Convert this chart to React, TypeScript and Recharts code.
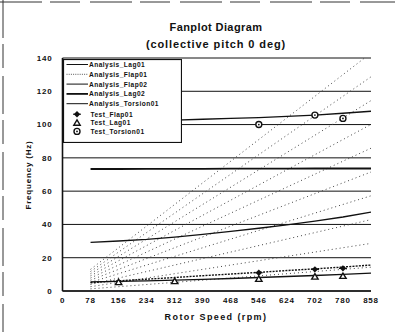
import React from 'react';
import {
  ComposedChart,
  Line,
  Scatter,
  XAxis,
  YAxis,
  CartesianGrid,
  Legend,
  Customized,
} from 'recharts';

// ---- axis ticks ----
const rpmTicks = [0, 78, 156, 234, 312, 390, 468, 546, 624, 702, 780, 858];
const freqTicks = [0, 20, 40, 60, 80, 100, 120, 140];

// ---- analysis curves (rpm vs Hz) ----
const analysisRpm = [78, 156, 234, 312, 390, 468, 546, 624, 702, 780, 858];
const lag01Hz = [5.5, 5.8, 6.1, 6.5, 7.0, 7.5, 8.1, 8.7, 9.3, 10.0, 10.8];
const flap01Hz = [5.0, 6.1, 7.1, 8.1, 9.2, 10.2, 11.2, 12.3, 13.3, 14.4, 15.6];
const flap02Hz = [29.2, 30.0, 31.0, 32.4, 34.0, 35.8, 37.7, 39.7, 42.0, 44.5, 47.4];
const lag02Hz = [73.3, 73.3, 73.4, 73.4, 73.4, 73.5, 73.5, 73.5, 73.6, 73.6, 73.6];
const torsion01Hz = [101.5, 101.8, 102.2, 102.7, 103.2, 103.7, 104.2, 104.9, 105.7, 106.8, 108.0];

// ---- test points ----
const testFlapRpm = [546, 702, 780];
const testFlap01Hz = [11.0, 13.0, 13.6];
const testLagRpm = [156, 312, 546, 702, 780];
const testLag01Hz = [5.3, 5.9, 7.2, 8.6, 9.0];
const testTorsionRpm = [546, 702, 780];
const testTorsion01Hz = [100.0, 105.7, 103.7];

// ---- per-rev fan lines (start / end values) ----
const fanRpm = [78, 858];
const fanStartHz = [1.3, 2.6, 3.9, 5.2, 6.5, 7.8, 9.1, 10.4, 11.7, 13.0];
const fanEndHz = [14.3, 28.6, 42.9, 57.2, 71.5, 85.8, 100.1, 114.4, 128.7, 143.0];

// ---- legend labels ----
const legendNames = [
  'Analysis_Lag01',
  'Analysis_Flap01',
  'Analysis_Flap02',
  'Analysis_Lag02',
  'Analysis_Torsion01',
  'Test_Flap01',
  'Test_Lag01',
  'Test_Torsion01',
];

const toSeries = (xs: number[], ys: number[]) => xs.map((x, i) => ({ rpm: x, hz: ys[i] }));

const fanSeries = fanStartHz.map((s, i) => [
  { rpm: fanRpm[0], hz: s },
  { rpm: fanRpm[1], hz: fanEndHz[i] },
]);

const INK = '#111';
const FONT = '"Liberation Sans", Arial, Helvetica, sans-serif';

const Diamond = (p: any) => {
  const { cx, cy } = p;
  if (cx == null || cy == null) return null;
  const r = 3.2;
  return (
    <g>
      <polygon points={`${cx},${cy - r} ${cx + r},${cy} ${cx},${cy + r} ${cx - r},${cy}`} fill={INK} />
      <line x1={cx - 4} x2={cx + 4} y1={cy} y2={cy} stroke={INK} strokeWidth={1.1} />
    </g>
  );
};

const Tri = (p: any) => {
  const { cx, cy } = p;
  if (cx == null || cy == null) return null;
  return (
    <polygon
      points={`${cx},${cy - 3} ${cx + 3.2},${cy + 2.4} ${cx - 3.2},${cy + 2.4}`}
      fill="#fff"
      stroke={INK}
      strokeWidth={1.4}
    />
  );
};

const Ring = (p: any) => {
  const { cx, cy } = p;
  if (cx == null || cy == null) return null;
  return (
    <g>
      <circle cx={cx} cy={cy} r={3} fill="#fff" stroke={INK} strokeWidth={1.4} />
      <circle cx={cx} cy={cy} r={0.9} fill={INK} />
    </g>
  );
};

const LegendBox = () => {
  const rowY = [5.5, 15.3, 25.1, 34.9, 44.7, 55.2, 63.8, 72.4];
  const lineStyles: any[] = [
    { w: 1, dash: undefined },
    { w: 1, dash: '1 1.2', c: '#555' },
    { w: 1, dash: undefined },
    { w: 1.8, dash: undefined },
    { w: 1, dash: undefined },
  ];
  return (
    <svg width={119} height={84} style={{ display: 'block' }}>
      <rect x={0.5} y={0.5} width={118} height={83} fill="#fff" stroke={INK} strokeWidth={1.2} />
      {legendNames.map((name, i) => {
        const y = rowY[i];
        const isLine = i < 5;
        return (
          <g key={name}>
            {isLine ? (
              <line
                x1={3.5}
                x2={25}
                y1={y}
                y2={y}
                stroke={lineStyles[i].c || INK}
                strokeWidth={lineStyles[i].w}
                strokeDasharray={lineStyles[i].dash}
              />
            ) : i === 5 ? (
              <Diamond cx={14} cy={y} />
            ) : i === 6 ? (
              <Tri cx={14} cy={y} />
            ) : (
              <Ring cx={14} cy={y} />
            )}
            <text
              x={isLine ? 26 : 27.5}
              y={y + 2.4}
              fontSize={6.6}
              fontWeight="bold"
              letterSpacing={0.45}
              fill={INK}
              fontFamily={FONT}
            >
              {name}
            </text>
          </g>
        );
      })}
    </svg>
  );
};

const Decorations = () => (
  <g fontFamily={FONT} fill={INK}>
    <line x1={0} x2={395} y1={2} y2={2} stroke="#333" strokeWidth={1} strokeDasharray="42 8 30 10" />
    <line x1={3} x2={3} y1={0} y2={332} stroke="#333" strokeWidth={1} strokeDasharray="38 6 24 8" />
    <text x={216} y={31} textAnchor="middle" fontSize={11} fontWeight="bold" letterSpacing={0.4}>
      Fanplot Diagram
    </text>
    <text x={216} y={47.5} textAnchor="middle" fontSize={11} fontWeight="bold" letterSpacing={0.9}>
      (collective pitch 0 deg)
    </text>
    <text x={216} y={320} textAnchor="middle" fontSize={9} fontWeight="bold" letterSpacing={1.4}>
      Rotor Speed (rpm)
    </text>
    <text
      x={31}
      y={175}
      textAnchor="middle"
      fontSize={8}
      fontWeight="bold"
      letterSpacing={0.8}
      transform="rotate(-90 31 175)"
    >
      Frequency (Hz)
    </text>
  </g>
);

const tickStyle = { fontSize: 8, fontWeight: 'bold', fill: INK, fontFamily: FONT, letterSpacing: 0.8 } as any;

export default function App() {
  return (
    <div style={{ position: 'fixed', left: 0, top: 0, width: 395, height: 332, background: '#fff' }}>
      <ComposedChart width={395} height={332} margin={{ top: 58, right: 24, bottom: 11, left: 0 }}>
        <CartesianGrid vertical={false} horizontal stroke={INK} strokeWidth={1} />
        <XAxis
          type="number"
          dataKey="rpm"
          domain={[0, 858]}
          ticks={rpmTicks}
          interval={0}
          height={30}
          tickLine={false}
          tickSize={0}
          tickMargin={6}
          axisLine={{ stroke: INK, strokeWidth: 1.6 }}
          tick={tickStyle}
          allowDataOverflow
        />
        <XAxis
          xAxisId="top"
          orientation="top"
          type="number"
          domain={[0, 858]}
          height={0}
          tick={false}
          tickLine={false}
          axisLine={{ stroke: INK, strokeWidth: 1.8 }}
        />
        <YAxis
          type="number"
          dataKey="hz"
          domain={[0, 140]}
          ticks={freqTicks}
          interval={0}
          width={62.5}
          tickLine={false}
          tickSize={0}
          tickMargin={10}
          axisLine={{ stroke: INK, strokeWidth: 1.6 }}
          tick={tickStyle}
          allowDataOverflow
        />
        <YAxis
          yAxisId="right"
          orientation="right"
          type="number"
          domain={[0, 140]}
          width={0}
          tick={false}
          tickLine={false}
          axisLine={{ stroke: INK, strokeWidth: 2.2 }}
        />
        {fanSeries.map((d, i) => (
          <Line
            key={`fan${i}`}
            data={d}
            dataKey="hz"
            stroke="#444"
            strokeWidth={1}
            strokeDasharray="1 3"
            dot={false}
            isAnimationActive={false}
            legendType="none"
          />
        ))}
        <Line data={toSeries(analysisRpm, lag01Hz)} dataKey="hz" name="Analysis_Lag01" stroke={INK} strokeWidth={1.3} dot={false} isAnimationActive={false} />
        <Line data={toSeries(analysisRpm, flap01Hz)} dataKey="hz" name="Analysis_Flap01" stroke={INK} strokeWidth={1.4} strokeDasharray="2 1.2" dot={false} isAnimationActive={false} />
        <Line data={toSeries(analysisRpm, flap02Hz)} dataKey="hz" name="Analysis_Flap02" stroke={INK} strokeWidth={1.4} dot={false} isAnimationActive={false} />
        <Line data={toSeries(analysisRpm, lag02Hz)} dataKey="hz" name="Analysis_Lag02" stroke={INK} strokeWidth={1.8} dot={false} isAnimationActive={false} />
        <Line data={toSeries(analysisRpm, torsion01Hz)} dataKey="hz" name="Analysis_Torsion01" stroke={INK} strokeWidth={1.3} dot={false} isAnimationActive={false} />
        <Scatter data={toSeries(testFlapRpm, testFlap01Hz)} dataKey="hz" name="Test_Flap01" shape={Diamond} isAnimationActive={false} />
        <Scatter data={toSeries(testLagRpm, testLag01Hz)} dataKey="hz" name="Test_Lag01" shape={Tri} isAnimationActive={false} />
        <Scatter data={toSeries(testTorsionRpm, testTorsion01Hz)} dataKey="hz" name="Test_Torsion01" shape={Ring} isAnimationActive={false} />
        <Legend
          layout="vertical"
          align="center"
          verticalAlign="middle"
          content={() => <LegendBox />}
          wrapperStyle={{ left: 63, top: 58.5, width: 119, height: 84, right: 'auto', bottom: 'auto', margin: 0 }}
        />
        <Customized component={Decorations} />
      </ComposedChart>
    </div>
  );
}
